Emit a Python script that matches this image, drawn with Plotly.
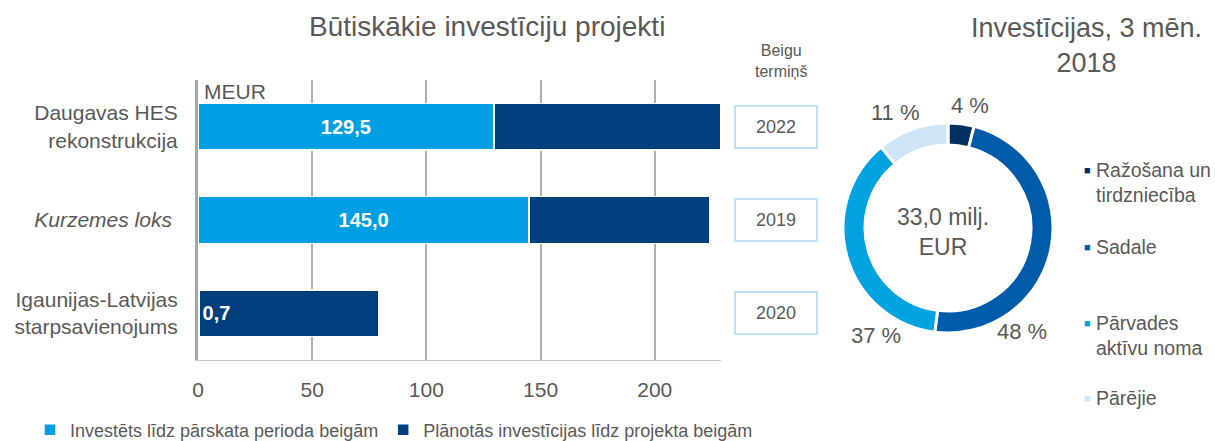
import plotly.graph_objects as go

# ---------------- data ----------------
projects = ["Daugavas HES<br>rekonstrukcija", "<i>Kurzemes loks</i> ", "Igaunijas-Latvijas<br>starpsavienojums"]
invested = [129.5, 145.0, 0.7]
planned = [99.5, 79.0, 78.5]
end_years = ["2022", "2019", "2020"]
series_names = ["Investēts līdz pārskata perioda beigām", "Plānotās investīcijas līdz projekta beigām"]
x_ticks = [0, 50, 100, 150, 200]

segments = ["Ražošana un<br>tirdzniecība", "Sadale", "Pārvades<br>aktīvu noma", "Pārējie"]
shares = [4, 48, 37, 11]
total_label = "33,0 milj.<br>EUR"

# ---------------- style ----------------
W, H = 1215, 441
GRAY = "#595959"
LIGHT = "#009FE3"
DARK = "#003E7E"
PIE_COLORS = ["#00305F", "#005BAA", "#00A3E0", "#CFE4F6"]
FONT = "Liberation Sans, Arial, sans-serif"


def px(x):
    return x / W


def py(y):
    return 1 - y / H


def fmt(v):
    return f"{v:.1f}".replace(".", ",")


light_text = [fmt(v) if v > 10 else "" for v in invested]
dark_text = [fmt(v) if v <= 10 else "" for v in invested]

fig = go.Figure()
fig.add_trace(go.Bar(
    y=projects, x=invested, orientation="h", name=series_names[0],
    marker=dict(color=LIGHT, line=dict(color="white", width=1.5)),
    text=light_text, textposition="inside", insidetextanchor="middle",
    texttemplate="<b>%{text}</b>",
    textfont=dict(color="white", size=20, family=FONT), width=0.5,
))
fig.add_trace(go.Bar(
    y=projects, x=planned, orientation="h", name=series_names[1],
    marker=dict(color=DARK, line=dict(color="white", width=1.5)),
    text=dark_text, textposition="inside", insidetextanchor="start",
    texttemplate="<b>%{text}</b>",
    textfont=dict(color="white", size=20, family=FONT), width=0.5,
))

# donut
fig.add_trace(go.Pie(
    labels=[s.replace("<br>", " ") for s in segments], values=shares, hole=0.79,
    sort=False, direction="clockwise", rotation=0,
    marker=dict(colors=PIE_COLORS, line=dict(color="white", width=3)),
    textinfo="none", showlegend=False,
    domain=dict(x=[px(843), px(1053)], y=[py(333), py(123)]),
))

annotations = []


def ann(text, x, y, size, xanchor="center", yanchor="middle", **kw):
    d = dict(text=text, x=x, y=y, xref=kw.pop("xref", "paper"), yref=kw.pop("yref", "paper"),
             xanchor=xanchor, yanchor=yanchor, showarrow=False,
             font=dict(size=size, color=kw.pop("color", GRAY), family=FONT))
    d.update(kw)
    annotations.append(d)


# MEUR
ann("MEUR", px(202), py(92), 21, xanchor="left")
# titles
ann("Būtiskākie investīciju projekti", px(487), py(26), 28)
ann("Investīcijas, 3 mēn.<br>2018", px(1086), py(45), 27)
ann("Beigu<br>termiņš", px(781), py(61), 16)
# year boxes
for proj, yr in zip(projects, end_years):
    ann(yr, px(776), proj, 18, yref="y", width=78, height=38, borderpad=1,
        bordercolor="#BFE2F7", borderwidth=2, bgcolor="white")
# donut centre
ann(total_label, px(943), py(232), 23)
# percent labels
pct_pos = [(970, 106), (1022, 331), (876, 335), (895, 112)]
for v, (xx, yy) in zip(shares, pct_pos):
    ann(f"{v} %", px(xx), py(yy), 22)
# donut legend
leg_y = [170, 247, 323, 398]
for seg, col, yy in zip(segments, PIE_COLORS, leg_y):
    ann("■", px(1087), py(yy), 11, color=col)
    ann(seg, px(1094), py(yy - 13), 19.5, xanchor="left", yanchor="top", align="left")

fig.update_layout(
    width=W, height=H, margin=dict(l=0, r=0, t=0, b=0, autoexpand=False),
    paper_bgcolor="white", plot_bgcolor="white",
    barmode="stack", bargap=0.5,
    font=dict(family=FONT, color=GRAY),
    xaxis=dict(domain=[px(198), px(721)], range=[0, 229], tickvals=x_ticks,
               showgrid=True, gridcolor="#B0B0B0", gridwidth=1.5, automargin=False,
               showline=True, linecolor="#C8C8C8", linewidth=1, zeroline=False,
               tickfont=dict(size=21, color=GRAY, family=FONT), ticks="", ticklabelstandoff=11),
    yaxis=dict(domain=[py(360), py(80)], autorange="reversed", automargin=False,
               showline=True, linecolor="#A6A6A6", linewidth=3,
               tickfont=dict(size=21, color=GRAY, family=FONT), ticks="", ticklabelstandoff=13),
    legend=dict(orientation="h", x=px(30), y=py(430), xref="paper", yref="paper",
                xanchor="left", yanchor="middle",
                font=dict(size=18, color=GRAY, family=FONT), itemwidth=30,
                traceorder="normal", tracegroupgap=0),
    annotations=annotations,
)

fig.write_html("out.html", config={"displayModeBar": False},
               post_script="document.body.style.margin='0px';document.body.style.overflow='hidden';")
